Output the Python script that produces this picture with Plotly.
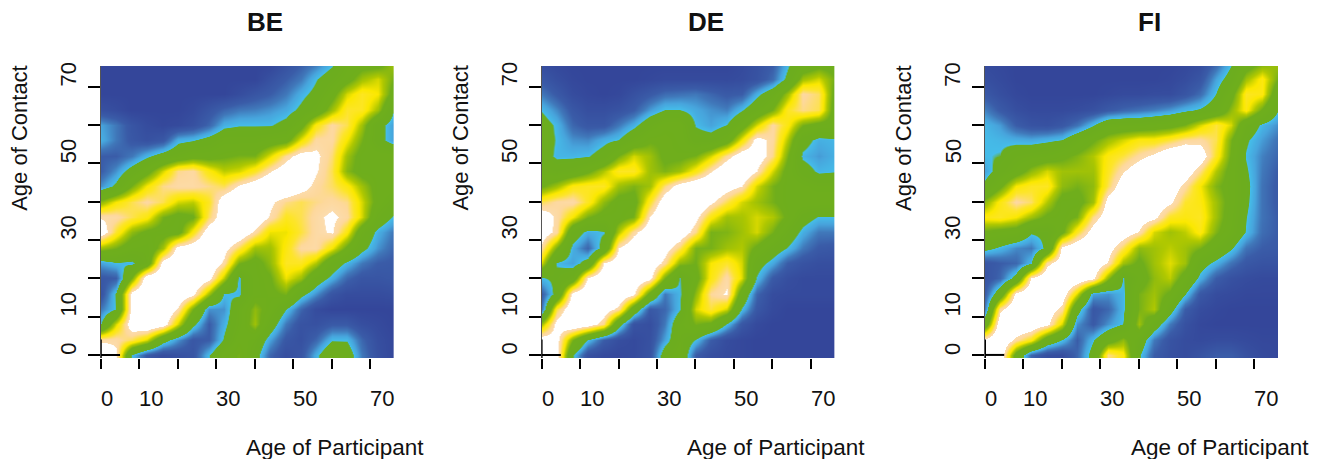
import plotly.graph_objects as go

ages_x = [0,4,8,12,16,20,24,28,32,36,40,44,48,52,56,60,64,68,72,76]
ages_y = [76,72,68,64,60,56,52,48,44,40,36,32,28,24,20,16,12,8,4,0]
tick_vals = [0,10,20,30,40,50,60,70]
label_vals = [0,10,30,50,70]
panel_names = ["BE","DE","FI"]

BE = [
[0,0,0,0,0,0,0,0,0,0,0,0,.5,1,1.5,2.3,3.5,4,4,5],
[0,0,0,0,0,0,0,0,0,0,0,.5,1,1.5,2.4,3.2,4,5,5.5,4.5],
[0,0,0,0,0,0,0,0,0,.3,.7,1,1.5,2.2,2.8,4,5.5,6.2,5.8,4],
[.5,.3,0,0,0,0,.2,.7,1.2,1.5,1.6,1.8,2.1,2.7,3.5,5,6.3,6.2,5,2.6],
[2,1.5,.7,.3,.1,.2,.5,1.2,2.2,2.4,2.4,2.4,2.8,4,6,7,6.5,5,2.9,2],
[2.2,1.5,.8,.5,.8,2.2,2.4,2.9,3.5,3.5,3.5,3.8,4,5.7,7,7,5.8,4.5,2.9,2],
[1,1,1.5,2.3,3,3.5,4,4,4.3,4.5,4.5,5.6,6.9,7.8,7.5,6.7,5,4,4,4],
[1,1.8,3,4,5.5,6.8,7,6,5.3,5.5,6.2,7.2,8,8.5,7.4,6.5,4.7,4,4,4],
[1.8,2.7,4.5,5.8,6.8,7.1,7.1,6.8,6.5,7.4,8,8.5,8.5,7.8,7,6.6,6,5,4,4],
[4.8,5.8,6.5,7,6.5,5.5,5.3,6.2,8,8.5,8.5,7.5,6.8,6.5,6.8,7,6.8,5.5,4,3.2],
[7.2,7.1,6.5,6,4.5,4,4.3,6.6,8,8.5,8.3,7.2,6.2,6.5,7.1,7.5,7,5.5,3.3,2.4],
[8,6.3,4.8,4.2,4,4,6,8,8.5,8.3,7.1,5.7,5.7,6.4,7.1,7.4,6,3.5,2.2,1.5],
[5,4.5,3.7,3.5,5,7.7,8,8.5,7.7,6.5,5,5,6,7,7.1,5.8,4.2,2.8,1.8,1.2],
[2,2.4,2.3,3.5,7.8,8.5,8.5,8.3,7.1,4.5,4,4.8,6.2,6.2,5.2,3.2,2.3,1.5,1,.9],
[.8,1,4.5,8.2,8.5,8.5,8.5,7.7,5.3,2.3,4,4.3,5.7,5,3.2,2.2,1.2,.7,.7,.8],
[.6,2.6,7.8,8.5,8.5,8.3,7.6,5,2.4,2.3,4,4.2,4.5,2.8,1.8,.7,.3,.3,.3,.4],
[1.5,2.5,7.8,8.5,8.5,7.2,4.5,1.8,1.8,3.5,4.8,4,2.5,1.2,.3,0,0,0,0,0],
[2.5,5.5,8,8.5,8,5.5,2.8,1,2.2,3.5,5,3.2,1.5,.6,.5,.9,.9,.4,.2,0],
[7.1,7.1,6.5,5.5,3,1.8,.8,1,2.6,4,3.5,2,.8,.5,1.2,2.4,2.4,1.2,.4,.1],
[8.5,7.5,2.4,.9,.3,.5,.7,2.4,4,4.5,3,1.2,.4,.7,2.2,3.7,3.2,1.5,.5,.1],
]

DE = [
[.3,.1,0,0,0,0,0,0,0,0,0,0,0,.2,.5,1,2.3,3.5,4,4],
[.8,.4,.1,0,0,0,0,.1,.2,.2,.2,.2,.2,.3,.6,1.3,2.8,5,5.5,4.5],
[1.5,.9,.3,.1,0,.1,.5,.9,1.3,1.4,1.5,1.2,.9,1,2.2,3.3,5,7,6.6,4.2],
[2.4,1.7,.8,.4,.4,.6,1,1.9,2.5,2.5,2.1,1.8,1.6,2.4,3.4,4.5,6.2,6.8,6.5,4],
[3,2.3,1.2,.8,.8,1.5,2.2,3.3,4,4,2.4,2,2.5,3.8,5.5,7,6,4.5,4,4],
[3,2.4,1.8,1.7,2.2,2.5,3.5,4.3,4.3,4,3,3,3.8,5.8,7.7,7,5.2,2.9,2.2,2.3],
[3,2.3,2.3,2.4,3,4.5,5.5,5,4.2,4.2,4.5,5.5,6.9,8,8,6.8,4.5,2.3,1.9,2.2],
[3.5,3.2,3.5,4.2,5.2,6.2,6.2,5,4.6,5,6,7.2,8.3,8.5,7.3,5.5,4,3,2.3,2.4],
[4.3,5,6,6.2,6.2,5,4.6,5,6.7,7.8,8.3,8.5,7.8,7.3,5.5,4.5,4,3.8,3.5,3.5],
[6.5,7,7.1,6.2,4.8,4,4,6.2,8,8.5,8.5,7.5,6.5,5.5,5,4.5,4,4,4,4],
[8,7.1,5.8,4.5,4,4,4.5,7.3,8.5,8.5,7.6,6,5,5.1,5.5,5.2,4.2,3,2.4,2.4],
[8,7,3.2,2.2,2.4,5.2,7,8.2,8.5,8.2,6.8,4.5,4.6,5,5.5,4.5,3.3,2.2,1.5,1.5],
[7,4.5,2.2,1.2,3,7.3,8.2,8.5,7.8,6.6,4.5,4.5,5,5.2,4.2,3.2,2.4,1.5,.9,.8],
[5.5,2.4,2,3,7.3,8.2,8.5,8.2,7,4.8,4.4,5.8,6.3,5.5,3,2.1,1,.6,.4,.4],
[2.4,2.7,3.5,7.4,8.4,8.5,8.3,7.7,4.5,2.4,4,6,7.1,5.6,2.4,.9,.4,.2,.2,.2],
[1,3,7.7,8.4,8.5,8.4,7.5,4,1.5,2.3,4.8,6.9,7.4,3.6,1.2,.3,.2,.2,.2,.2],
[1.4,6.4,8.3,8.5,8,7,3.5,.9,1.2,2.4,5.5,6.4,5.5,2.4,.8,.2,0,0,0,0],
[5,7.7,8.5,8,6.8,3,.6,.4,1.5,3.5,4.5,4.2,2.4,.8,.2,0,0,0,0,0],
[8,7.7,4.5,2.4,1,.4,.2,.5,2,3.5,2.4,1,.3,.1,0,0,0,0,0,0],
[8.5,7.8,2.6,.5,.2,.1,.2,.6,3.2,3.8,1,.4,.2,.1,0,0,0,0,0,0],
]

FI = [
[.2,.1,0,0,0,0,0,0,0,0,0,0,0,.1,.3,1.2,2.4,3.8,4.6,5],
[.4,.2,0,0,0,0,0,0,0,0,0,0,.1,.3,.7,2,3,5,6,4.5],
[.8,.4,.1,0,0,0,0,0,.1,.2,.2,.3,.3,.7,1.3,2.5,4,6.2,6,3.5],
[1.6,.9,.4,.2,.2,.2,.3,.5,.9,1.2,1.4,1.6,1.9,2.3,2.6,3.2,4.8,6,4.3,2.6],
[2.3,1.9,1,.6,.5,.8,1.4,2.4,3.5,3.6,3.6,3.8,4,4.5,5.5,6.4,5.5,3.3,2.3,1.8],
[2.4,2.3,2.2,2.1,2.3,2.5,3.5,4.3,5,5.5,6,6,6.4,6.9,7,6.5,4.5,2.6,1.9,1.4],
[2.4,2.5,3.2,3.5,3.7,4.2,4.6,5.2,6,6.4,7,7.5,8.3,8.5,8,6.2,4.3,2.4,1.6,1.2],
[2,3,3.8,4.8,5.5,5,5,5,6.2,7.2,8,8.5,8.5,8,6.8,5.2,4,2.6,1.5,1],
[2.8,4.2,5.8,6.2,6.2,4.8,4.5,4.8,6.5,8,8.5,8.5,8,7,5.8,4.6,4,2.8,1.4,.9],
[4.8,6,7,6.6,5.2,4,4,5,7.8,8.5,8.5,8,7.5,6.3,6,5,4,2.7,1.4,.9],
[6,6.2,5.8,5,4.2,4,4.5,6.8,8,8.5,8,7.6,6.2,6,6.2,5,3.8,2.5,1.4,1],
[4.3,4,3.8,2.6,2.7,4.2,6.2,7.8,8.5,8,7.2,5.5,5,5.3,6,4.6,3.6,2.4,1.3,1],
[2.8,2.3,1.7,1.5,2.8,7.6,8.2,8.5,7.8,6.5,4.8,5,5.3,5,4.5,3.5,2.6,1.4,1,.9],
[.7,1,1.2,2.4,7,8,8.5,8.2,7.2,5,4.2,5,5.6,5,3,2.2,1.4,.8,.6,.6],
[.6,1.2,3,7.4,8.3,8.5,8.3,7.6,4.8,2.4,3.8,4.8,5.3,3.8,2.2,1,.5,.3,.2,.2],
[1,3.5,7.7,8.4,8.5,8,5.5,2,1.8,2.3,4.5,5,4.2,2.5,.8,.3,.2,.1,.1,.1],
[1.6,7,8.5,8.5,8,7,3,.8,1.2,2.3,4.5,5.2,3,1,.3,.1,0,0,0,0],
[3.5,8.2,8.5,8.3,7.6,5.5,1.8,.9,1.8,2.5,5,3.2,1.5,.5,.1,0,0,0,0,0],
[7.6,8.5,7,6,3.5,2.4,1,2.4,3.8,4.8,3.3,1.5,.6,.3,.2,.3,.3,.2,.1,.1],
[8.5,8.2,3.8,1.2,.4,.3,1.2,3,6.8,6,2.6,1,.5,.3,.6,1,1,.5,.2,.1],
]

panels = [BE, DE, FI]
lefts = [100.8, 541.6, 985.0]
plot_w = 293.0
W, H = 1321, 459
top, bottom = 66.0, 358.0

Z = 9.0
scale = [
    [0/Z, "#34469a"], [1.0/Z, "#3a5ca8"], [1.5/Z, "#4078ba"], [2.0/Z, "#47a4dc"], [2.44/Z, "#45bde9"],
    [2.5/Z, "#6bad1f"], [4.4/Z, "#6fae1c"], [5.2/Z, "#b0c800"], [5.8/Z, "#fbe800"],
    [6.3/Z, "#fde52a"], [6.9/Z, "#fdd89c"], [7.29/Z, "#fcdcae"], [7.3/Z, "#ffffff"], [1, "#ffffff"],
]

fig = go.Figure()
ann, shapes = [], []
FONT = "Liberation Sans, Arial, sans-serif"
for i, (name, z, left) in enumerate(zip(panel_names, panels, lefts)):
    n = "" if i == 0 else str(i + 1)
    fig.add_trace(go.Heatmap(x=ages_x, y=ages_y[::-1], z=z[::-1], zmin=0, zmax=Z, colorscale=scale,
                             zsmooth="best", showscale=False, xaxis=f"x{n}", yaxis=f"y{n}"))
    tick = dict(tickmode="array", tickvals=tick_vals, ticks="outside", tickwidth=2,
                tickcolor="#000", showticklabels=False, showgrid=False, zeroline=False)
    fig.layout[f"xaxis{n}"] = dict(domain=[left / W, (left + plot_w) / W], range=[0, 76.2],
                                   ticklen=10, anchor=f"y{n}", **tick)
    fig.layout[f"yaxis{n}"] = dict(domain=[(H - bottom) / H, (H - top) / H], range=[-0.8, 75.4],
                                   ticklen=12, anchor=f"x{n}", showline=True, linecolor="#555",
                                   linewidth=1, **tick)
    for v in label_vals:
        ann.append(dict(text=str(v), x=v, xref=f"x{n}", xanchor="left", yref="paper",
                        y=(H - 398) / H, yanchor="middle", showarrow=False, xshift=-2,
                        font=dict(family=FONT, size=22, color="#111")))
        ann.append(dict(text=str(v), y=v, yref=f"y{n}", yanchor="bottom", xref="paper",
                        x=(left - 32) / W, xanchor="center", textangle=-90, showarrow=False, yshift=-2,
                        font=dict(family=FONT, size=22, color="#111")))
    ann.append(dict(text=f"<b>{name}</b>", xref="paper", yref="paper", x=(left + 164) / W,
                    y=(H - 22) / H, xanchor="center", yanchor="middle", showarrow=False,
                    font=dict(family=FONT, size=26, color="#111")))
    ann.append(dict(text="Age of Participant", xref="paper", yref="paper", x=(left + 234.5) / W,
                    y=(H - 447) / H, xanchor="center", yanchor="middle", showarrow=False,
                    font=dict(family=FONT, size=22.5, color="#111")))
    ann.append(dict(text="Age of Contact", xref="paper", yref="paper", x=(left - 82) / W,
                    y=(H - 138) / H, xanchor="center", yanchor="middle", textangle=-90, showarrow=False,
                    font=dict(family=FONT, size=22, color="#111")))
    shapes.append(dict(type="line", xref=f"x{n}", yref=f"y{n}", x0=0, x1=5, y0=0, y1=0,
                       line=dict(color="#000", width=2)))
    shapes.append(dict(type="line", xref=f"x{n}", yref=f"y{n}", x0=0, x1=0, y0=-0.8, y1=4,
                       line=dict(color="#000", width=2)))

fig.update_layout(width=W, height=H, margin=dict(l=0, r=0, t=0, b=0), plot_bgcolor="white",
                  paper_bgcolor="white", annotations=ann, shapes=shapes, showlegend=False)
fig.write_html("out.html", config={"displayModeBar": False},
               post_script="document.body.style.margin='0';")
